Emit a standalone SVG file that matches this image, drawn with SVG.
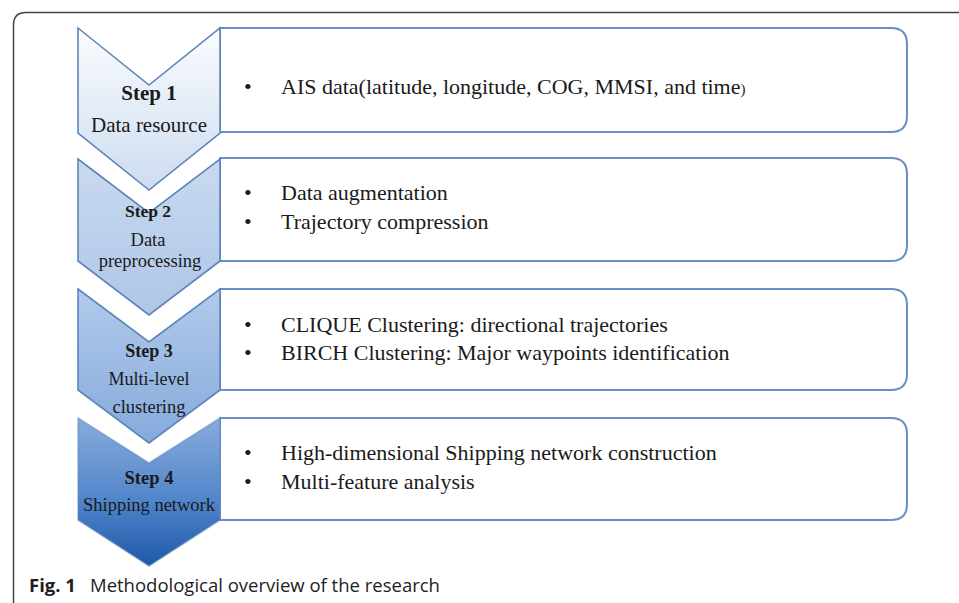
<svg xmlns="http://www.w3.org/2000/svg" width="959" height="603" viewBox="0 0 959 603">
<defs>
<linearGradient id="g1" x1="0" y1="0" x2="0" y2="1"><stop offset="0" stop-color="#fbfcfe"/><stop offset="1" stop-color="#cddcf0"/></linearGradient>
<linearGradient id="g2" x1="0" y1="0" x2="0" y2="1"><stop offset="0" stop-color="#c9d9ef"/><stop offset="1" stop-color="#aec6e8"/></linearGradient>
<linearGradient id="g3" x1="0" y1="0" x2="0" y2="1"><stop offset="0" stop-color="#b2caeb"/><stop offset="1" stop-color="#85aadc"/></linearGradient>
<linearGradient id="g4" x1="0" y1="0" x2="0" y2="1"><stop offset="0" stop-color="#88acdd"/><stop offset="0.55" stop-color="#5286cb"/><stop offset="1" stop-color="#1d58a7"/></linearGradient>
<style>
.chev{stroke:#5d85ba;stroke-width:1.6;stroke-linejoin:miter}
.box{fill:#ffffff;stroke:#6a8fc4;stroke-width:2}
.st{font-family:"Liberation Serif","Times New Roman",serif;font-weight:bold;fill:#1a1a1a;text-anchor:middle}
.lb{font-family:"Liberation Serif","Times New Roman",serif;fill:#1a1a1a;text-anchor:middle}
.bt{font-family:"Liberation Serif","Times New Roman",serif;font-size:22px;fill:#1a1a1a}
.cap{font-family:"Open Sans","Noto Sans",sans-serif;font-size:18.5px;fill:#1e1e1e}
</style>
</defs>
<rect width="959" height="603" fill="#ffffff"/>
<path d="M13.5,603 V25 Q13.5,12.5 26,12.5 H959" fill="none" stroke="#444" stroke-width="1.5"/>
<g id="connectors"/>
<g id="step1">
<path class="box" d="M220,28 H891 Q907,28 907,44 V116 Q907,132 891,132 H220 Z"/>
<path class="chev" fill="url(#g1)" d="M78,28 L149,85 L220,28 L220,133 L149,190 L78,133 Z"/>
<text class="st" x="149" y="100" font-size="21">Step 1</text>
<text class="lb" x="149" y="132" font-size="21">Data resource</text>
<text class="bt" x="244" y="94">•</text>
<text class="bt" x="281" y="94">AIS data(latitude, longitude, COG, MMSI, and time<tspan font-size="15">)</tspan></text>
</g>
<g id="step2">
<path class="box" d="M220,158 H891 Q907,158 907,174 V245 Q907,261 891,261 H220 Z"/>
<path class="chev" fill="url(#g2)" d="M78,159 L149,213 L220,159 L220,261 L149,315 L78,261 Z"/>
<text class="st" x="148" y="217" font-size="17.5">Step 2</text>
<text class="lb" x="148" y="246" font-size="18.5">Data</text>
<text class="lb" x="150" y="267" font-size="18.5">preprocessing</text>
<text class="bt" x="244" y="200">•</text>
<text class="bt" x="281" y="200">Data augmentation</text>
<text class="bt" x="244" y="229">•</text>
<text class="bt" x="281" y="229">Trajectory compression</text>
</g>
<g id="step3">
<path class="box" d="M220,289 H891 Q907,289 907,305 V374 Q907,390 891,390 H220 Z"/>
<path class="chev" fill="url(#g3)" d="M78,289 L149,342 L220,289 L220,390 L149,443 L78,390 Z"/>
<text class="st" x="149" y="357" font-size="18">Step 3</text>
<text class="lb" x="149" y="385" font-size="18">Multi-level</text>
<text class="lb" x="149" y="413" font-size="18.5">clustering</text>
<text class="bt" x="244" y="332">•</text>
<text class="bt" x="281" y="332">CLIQUE Clustering: directional trajectories</text>
<text class="bt" x="244" y="360">•</text>
<text class="bt" x="281" y="360">BIRCH Clustering: Major waypoints identification</text>
</g>
<g id="step4">
<path class="box" d="M220,418 H891 Q907,418 907,434 V504 Q907,520 891,520 H220 Z"/>
<path class="chev" fill="url(#g4)" stroke-opacity="0.5" d="M78,418 L149,463 L220,418 L220,520 L149,566 L78,520 Z"/>
<text class="st" x="149" y="484" font-size="18.5">Step 4</text>
<text class="lb" x="149" y="511" font-size="18.5">Shipping network</text>
<text class="bt" x="244" y="460">•</text>
<text class="bt" x="281" y="460">High-dimensional Shipping network construction</text>
<text class="bt" x="244" y="489">•</text>
<text class="bt" x="281" y="489">Multi-feature analysis</text>
</g>
<text class="cap" x="29" y="592"><tspan font-weight="bold">Fig. 1</tspan><tspan x="90">Methodological overview of the research</tspan></text>
</svg>
